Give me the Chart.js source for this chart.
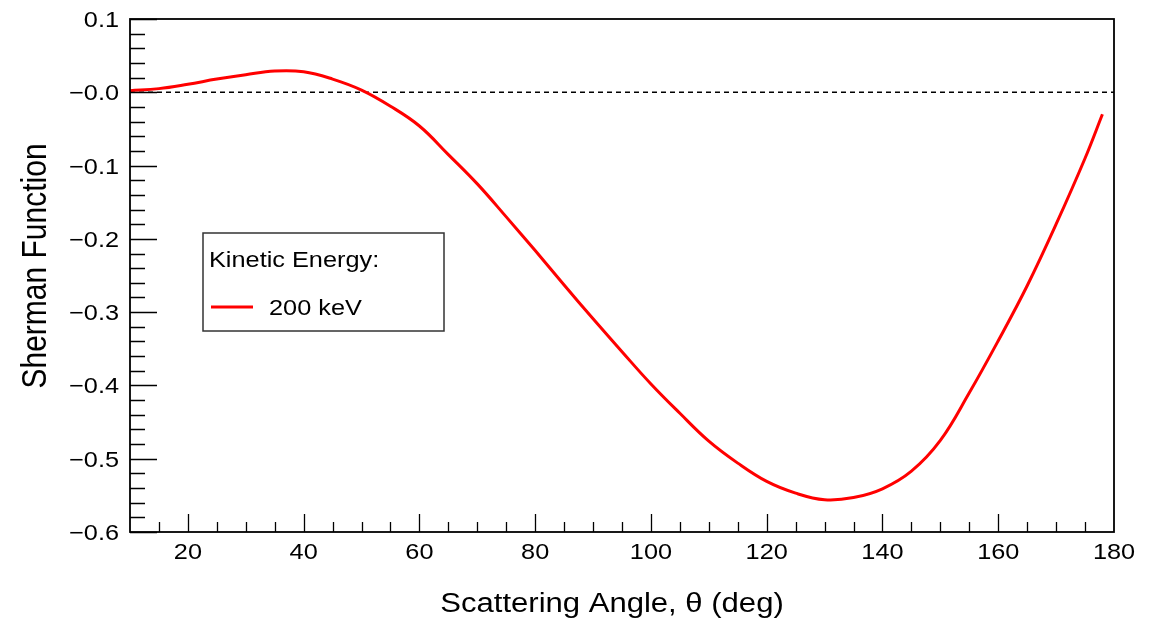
<!DOCTYPE html>
<html>
<head>
<meta charset="utf-8">
<script src="https://cdn.jsdelivr.net/npm/chart.js@4/dist/chart.umd.min.js"></script>
<style>
  html, body { margin: 0; padding: 0; background: #fff; }
  #wrap { width: 1160px; height: 618px; }
</style>
</head>
<body>
<div id="wrap"><canvas id="chart" width="1160" height="618"></canvas></div>
<script>
// Data
const angles = [10, 15, 20, 25, 30, 35, 40, 45, 50, 55, 60, 65, 70, 75, 80, 85, 90, 95, 100,
                105, 110, 115, 120, 125, 130, 135, 140, 145, 150, 155, 160, 165, 170, 175, 178];
const sherman = [0.002, 0.005, 0.011, 0.018, 0.024, 0.029, 0.028, 0.018, 0.003, -0.019, -0.046,
                 -0.085, -0.125, -0.170, -0.216, -0.263, -0.309, -0.354, -0.398, -0.438, -0.476,
                 -0.506, -0.531, -0.547, -0.556, -0.553, -0.541, -0.517, -0.475, -0.410, -0.339,
                 -0.264, -0.180, -0.090, -0.030];
const zeroLineX = [10, 180];
const zeroLineY = [0, 0];

const xMajorTicks = [20, 40, 60, 80, 100, 120, 140, 160, 180];
const xTickLabels = ["20", "40", "60", "80", "100", "120", "140", "160", "180"];
const yMajorTicks = [0.1, 0, -0.1, -0.2, -0.3, -0.4, -0.5, -0.6];
const yTickLabels = ["0.1", "\u22120.0", "\u22120.1", "\u22120.2", "\u22120.3", "\u22120.4", "\u22120.5", "\u22120.6"];

const seriesLabel = "200 keV";
const legendTitle = "Kinetic Energy:";
const xTitle = "Scattering Angle, \u03b8 (deg)";
const yTitle = "Sherman Function";

const FONT = "'Liberation Sans', Arial, Helvetica, sans-serif";
const SX = 1.15; // text in the reference is a bit wide

function wideText(ctx, text, x, y, align, size, rot) {
    ctx.save();
    ctx.translate(x, y);
    if (rot) { ctx.rotate(-Math.PI / 2); ctx.scale(1, SX); }
    else ctx.scale(SX, 1);
    ctx.font = size + "px " + FONT;
    ctx.textAlign = align;
    ctx.textBaseline = "alphabetic";
    ctx.fillStyle = "#000";
    ctx.fillText(text, 0, 0);
    ctx.restore();
}

// ROOT-like frame, inward ticks, titles and legend box
const rootAxes = {
    id: "rootAxes",
    afterDraw(chart) {
        const ctx = chart.ctx;
        const a = chart.chartArea;
        const xs = chart.scales.x, ys = chart.scales.y;
        ctx.save();
        ctx.strokeStyle = "#000";

        // x ticks
        ctx.lineWidth = 1.3;
        ctx.beginPath();
        for (let v = 15; v < 180; v += 5) {
            const px = Math.round(xs.getPixelForValue(v)) + 0.5;
            const len = (v % 20 === 0) ? 18 : 10;
            ctx.moveTo(px, a.bottom);
            ctx.lineTo(px, a.bottom - len);
        }
        // y ticks
        for (let i = -30; i <= 5; i++) {
            const v = i * 0.02;
            const py = Math.round(ys.getPixelForValue(v)) + 0.5;
            const len = (i % 5 === 0) ? 27 : 15;
            ctx.moveTo(a.left, py);
            ctx.lineTo(a.left + len, py);
        }
        ctx.stroke();

        // frame
        ctx.lineWidth = 1.8;
        ctx.strokeRect(a.left, a.top, a.right - a.left, a.bottom - a.top);

        // tick labels
        xMajorTicks.forEach((v, i) => {
            wideText(ctx, xTickLabels[i], xs.getPixelForValue(v), a.bottom + 27, "center", 22);
        });
        yMajorTicks.forEach((v, i) => {
            wideText(ctx, yTickLabels[i], 119, ys.getPixelForValue(v) + 8, "right", 22);
        });

        // axis titles
        wideText(ctx, xTitle, 612, 612, "center", 27);
        wideText(ctx, yTitle, 46, 266, "center", 30, true);

        // legend box
        ctx.lineWidth = 1.5;
        ctx.strokeStyle = "#333";
        ctx.strokeRect(203, 233, 241, 98);
        wideText(ctx, legendTitle, 209, 267, "left", 22);
        const ds = chart.data.datasets[0];
        ctx.strokeStyle = ds.borderColor;
        ctx.lineWidth = 3;
        ctx.beginPath();
        ctx.moveTo(211, 307);
        ctx.lineTo(253, 307);
        ctx.stroke();
        wideText(ctx, ds.label, 269, 315, "left", 22);
        ctx.restore();
    }
};

new Chart(document.getElementById("chart"), {
    type: "line",
    data: {
        datasets: [
            {
                label: seriesLabel,
                data: angles.map((x, i) => ({ x: x, y: sherman[i] })),
                borderColor: "#ff0000",
                borderWidth: 3,
                pointRadius: 0,
                tension: 0.4,
                fill: false,
                order: 1
            },
            {
                label: "zero",
                data: zeroLineX.map((x, i) => ({ x: x, y: zeroLineY[i] })),
                borderColor: "#000",
                borderWidth: 1.4,
                borderDash: [5, 4],
                pointRadius: 0,
                fill: false,
                order: 2
            }
        ]
    },
    options: {
        responsive: false,
        animation: false,
        devicePixelRatio: 1,
        layout: { padding: { left: 130, top: 19, right: 46, bottom: 86 } },
        plugins: { legend: { display: false }, tooltip: { enabled: false } },
        scales: {
            x: { type: "linear", min: 10, max: 180, display: false },
            y: { type: "linear", min: -0.6, max: 0.1, display: false }
        }
    },
    plugins: [rootAxes]
});
</script>
</body>
</html>
